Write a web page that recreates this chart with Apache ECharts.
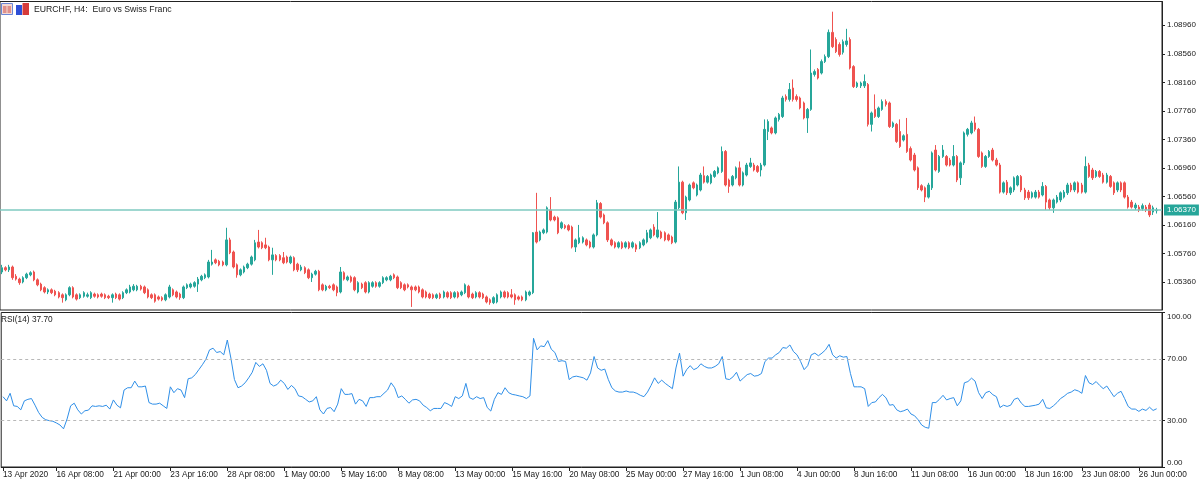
<!DOCTYPE html>
<html><head><meta charset="utf-8">
<script src="https://cdn.jsdelivr.net/npm/echarts@6/dist/echarts.min.js"></script>
<style>html,body{margin:0;padding:0;background:#fff}#c{width:1200px;height:486px}</style>
</head><body><div id="c"></div>
<script>
const symbolTitle = 'EURCHF, H4:  Euro vs Swiss Franc';
const rsiTitle = 'RSI(14) 37.70';
const lastPrice = 1.0637;

const timeLabels = ['13 Apr 2020','16 Apr 08:00','21 Apr 00:00','23 Apr 16:00','28 Apr 08:00','1 May 00:00','5 May 16:00','8 May 08:00','13 May 00:00','15 May 16:00','20 May 08:00','25 May 00:00','27 May 16:00','1 Jun 08:00','4 Jun 00:00','8 Jun 16:00','11 Jun 08:00','16 Jun 00:00','18 Jun 16:00','23 Jun 08:00','26 Jun 00:00'];
const timeLabelIndex = [0,15,31,47,63,79,95,111,127,143,159,175,191,207,223,239,255,271,287,303,319];
const priceTicks = [1.0536,1.0576,1.0616,1.0656,1.0696,1.0736,1.0776,1.0816,1.0856,1.0896];
const rsiTicks = [0,30,70,100];
const rsiLevels = [30,70];

const opens = [
1.0550,1.0556,1.0553,1.0557,1.0544,1.0540,1.0536,1.0542,1.0546,1.0550,
1.0539,1.0533,1.0528,1.0522,1.0525,1.0523,1.0521,1.0518,1.0511,1.0518,
1.0528,1.0518,1.0514,1.0516,1.0516,1.0514,1.0519,1.0518,1.0519,1.0518,
1.0516,1.0514,1.0519,1.0518,1.0514,1.0521,1.0522,1.0525,1.0525,1.0530,
1.0529,1.0525,1.0518,1.0518,1.0515,1.0514,1.0511,1.0515,1.0525,1.0522,
1.0519,1.0514,1.0528,1.0529,1.0530,1.0533,1.0539,1.0542,1.0543,1.0561,
1.0567,1.0565,1.0564,1.0560,1.0595,1.0578,1.0560,1.0546,1.0550,1.0556,
1.0561,1.0567,1.0592,1.0591,1.0588,1.0585,1.0567,1.0573,1.0573,1.0570,
1.0571,1.0563,1.0570,1.0561,1.0553,1.0556,1.0553,1.0542,1.0547,1.0551,
1.0532,1.0525,1.0530,1.0532,1.0529,1.0522,1.0549,1.0539,1.0543,1.0542,
1.0522,1.0533,1.0535,1.0522,1.0530,1.0535,1.0530,1.0535,1.0539,1.0539,
1.0546,1.0543,1.0535,1.0532,1.0532,1.0529,1.0529,1.0529,1.0525,1.0522,
1.0519,1.0518,1.0514,1.0519,1.0515,1.0521,1.0521,1.0515,1.0521,1.0518,
1.0521,1.0530,1.0519,1.0515,1.0521,1.0519,1.0515,1.0511,1.0507,1.0508,
1.0515,1.0522,1.0521,1.0518,1.0518,1.0515,1.0515,1.0511,1.0518,1.0521,
1.0606,1.0595,1.0605,1.0606,1.0637,1.0627,1.0626,1.0612,1.0615,1.0615,
1.0613,1.0585,1.0591,1.0592,1.0595,1.0592,1.0585,1.0602,1.0646,1.0630,
1.0619,1.0595,1.0591,1.0585,1.0591,1.0585,1.0591,1.0585,1.0588,1.0584,
1.0588,1.0592,1.0598,1.0613,1.0599,1.0606,1.0605,1.0602,1.0599,1.0592,
1.0640,1.0676,1.0633,1.0651,1.0675,1.0658,1.0665,1.0685,1.0676,1.0675,
1.0684,1.0689,1.0691,1.0719,1.0679,1.0672,1.0682,1.0696,1.0672,1.0686,
1.0698,1.0700,1.0698,1.0693,1.0700,1.0747,1.0752,1.0745,1.0764,1.0768,
1.0796,1.0792,1.0808,1.0796,1.0794,1.0787,1.0766,1.0778,1.0827,1.0834,
1.0829,1.0845,1.0852,1.0886,1.0876,1.0869,1.0858,1.0869,1.0876,1.0838,
1.0810,1.0811,1.0811,1.0813,1.0757,1.0778,1.0768,1.0778,1.0789,1.0787,
1.0754,1.0757,1.0747,1.0735,1.0743,1.0723,1.0714,1.0696,1.0671,1.0668,
1.0655,1.0668,1.0721,1.0691,1.0712,1.0712,1.0707,1.0700,1.0712,1.0682,
1.0703,1.0743,1.0745,1.0759,1.0750,1.0717,1.0698,1.0712,1.0721,1.0707,
1.0700,1.0662,1.0676,1.0661,1.0665,1.0672,1.0684,1.0665,1.0662,1.0655,
1.0655,1.0662,1.0658,1.0670,1.0651,1.0640,1.0648,1.0651,1.0655,1.0661,
1.0672,1.0665,1.0675,1.0672,1.0662,1.0700,1.0693,1.0684,1.0691,1.0686,
1.0676,1.0684,1.0675,1.0665,1.0675,1.0675,1.0655,1.0648,1.0640,1.0641,
1.0639,1.0641,1.0644,1.0634,1.0636];

const closes = [
1.0556,1.0553,1.0557,1.0542,1.0540,1.0535,1.0542,1.0547,1.0549,1.0539,
1.0532,1.0525,1.0522,1.0525,1.0521,1.0518,1.0515,1.0514,1.0518,1.0528,
1.0515,1.0512,1.0518,1.0521,1.0518,1.0521,1.0516,1.0515,1.0516,1.0514,
1.0514,1.0518,1.0514,1.0512,1.0521,1.0525,1.0529,1.0530,1.0530,1.0526,
1.0521,1.0515,1.0514,1.0509,1.0512,1.0511,1.0518,1.0529,1.0518,1.0515,
1.0514,1.0529,1.0532,1.0533,1.0535,1.0540,1.0544,1.0546,1.0564,1.0564,
1.0563,1.0560,1.0560,1.0595,1.0577,1.0557,1.0546,1.0553,1.0557,1.0561,
1.0571,1.0591,1.0585,1.0584,1.0584,1.0567,1.0574,1.0567,1.0567,1.0563,
1.0564,1.0571,1.0553,1.0553,1.0557,1.0549,1.0542,1.0547,1.0551,1.0525,
1.0525,1.0530,1.0528,1.0525,1.0521,1.0550,1.0540,1.0543,1.0537,1.0525,
1.0535,1.0528,1.0522,1.0535,1.0535,1.0530,1.0535,1.0542,1.0542,1.0544,
1.0542,1.0528,1.0528,1.0525,1.0529,1.0525,1.0525,1.0522,1.0515,1.0515,
1.0514,1.0514,1.0518,1.0514,1.0522,1.0515,1.0514,1.0521,1.0515,1.0522,
1.0532,1.0515,1.0514,1.0521,1.0515,1.0514,1.0508,1.0507,1.0514,1.0518,
1.0522,1.0515,1.0515,1.0515,1.0511,1.0512,1.0511,1.0522,1.0522,1.0605,
1.0592,1.0606,1.0609,1.0640,1.0623,1.0623,1.0605,1.0619,1.0612,1.0609,
1.0585,1.0595,1.0598,1.0598,1.0588,1.0585,1.0602,1.0647,1.0627,1.0619,
1.0595,1.0588,1.0585,1.0591,1.0584,1.0591,1.0584,1.0591,1.0582,1.0591,
1.0595,1.0605,1.0609,1.0602,1.0609,1.0598,1.0595,1.0595,1.0591,1.0648,
1.0676,1.0633,1.0655,1.0672,1.0668,1.0672,1.0686,1.0676,1.0684,1.0686,
1.0691,1.0696,1.0719,1.0672,1.0670,1.0684,1.0696,1.0672,1.0689,1.0700,
1.0703,1.0693,1.0691,1.0700,1.0750,1.0761,1.0745,1.0766,1.0771,1.0794,
1.0792,1.0806,1.0792,1.0792,1.0780,1.0766,1.0778,1.0829,1.0831,1.0822,
1.0845,1.0852,1.0886,1.0866,1.0859,1.0855,1.0873,1.0874,1.0836,1.0810,
1.0815,1.0815,1.0817,1.0757,1.0773,1.0768,1.0780,1.0789,1.0785,1.0754,
1.0759,1.0733,1.0726,1.0741,1.0719,1.0707,1.0693,1.0668,1.0665,1.0655,
1.0672,1.0717,1.0693,1.0712,1.0721,1.0700,1.0700,1.0712,1.0679,1.0703,
1.0745,1.0750,1.0759,1.0750,1.0712,1.0698,1.0712,1.0719,1.0707,1.0700,
1.0662,1.0675,1.0661,1.0668,1.0682,1.0684,1.0665,1.0654,1.0654,1.0661,
1.0662,1.0655,1.0670,1.0648,1.0640,1.0651,1.0655,1.0661,1.0662,1.0672,
1.0665,1.0675,1.0662,1.0662,1.0698,1.0684,1.0682,1.0691,1.0684,1.0676,
1.0686,1.0670,1.0661,1.0675,1.0665,1.0655,1.0641,1.0641,1.0644,1.0637,
1.0643,1.0637,1.0630,1.0640,1.0637];

const lows = [
1.0547,1.0551,1.0550,1.0539,1.0538,1.0532,1.0534,1.0540,1.0544,1.0537,
1.0530,1.0523,1.0520,1.0519,1.0519,1.0516,1.0513,1.0507,1.0509,1.0516,
1.0513,1.0510,1.0512,1.0514,1.0514,1.0512,1.0514,1.0513,1.0514,1.0512,
1.0512,1.0507,1.0512,1.0510,1.0512,1.0519,1.0520,1.0523,1.0523,1.0524,
1.0519,1.0513,1.0512,1.0507,1.0510,1.0509,1.0509,1.0513,1.0516,1.0513,
1.0511,1.0512,1.0526,1.0527,1.0528,1.0522,1.0537,1.0540,1.0541,1.0559,
1.0561,1.0558,1.0558,1.0558,1.0575,1.0555,1.0542,1.0544,1.0548,1.0554,
1.0559,1.0565,1.0583,1.0582,1.0582,1.0565,1.0546,1.0565,1.0565,1.0561,
1.0562,1.0561,1.0551,1.0550,1.0551,1.0547,1.0540,1.0536,1.0545,1.0523,
1.0523,1.0523,1.0526,1.0523,1.0516,1.0520,1.0538,1.0537,1.0535,1.0523,
1.0520,1.0526,1.0520,1.0520,1.0528,1.0528,1.0528,1.0533,1.0537,1.0537,
1.0540,1.0526,1.0526,1.0523,1.0527,1.0501,1.0523,1.0520,1.0513,1.0513,
1.0512,1.0512,1.0512,1.0512,1.0513,1.0513,1.0512,1.0513,1.0513,1.0516,
1.0519,1.0513,1.0512,1.0513,1.0513,1.0512,1.0506,1.0504,1.0505,1.0506,
1.0513,1.0513,1.0513,1.0513,1.0504,1.0510,1.0509,1.0509,1.0516,1.0519,
1.0590,1.0593,1.0603,1.0604,1.0621,1.0621,1.0603,1.0610,1.0610,1.0607,
1.0583,1.0578,1.0589,1.0590,1.0586,1.0583,1.0583,1.0600,1.0625,1.0617,
1.0592,1.0586,1.0583,1.0583,1.0582,1.0583,1.0582,1.0583,1.0578,1.0582,
1.0586,1.0590,1.0596,1.0600,1.0597,1.0596,1.0593,1.0593,1.0589,1.0590,
1.0638,1.0631,1.0623,1.0649,1.0666,1.0656,1.0663,1.0674,1.0674,1.0673,
1.0682,1.0687,1.0689,1.0670,1.0661,1.0670,1.0680,1.0670,1.0670,1.0684,
1.0696,1.0691,1.0689,1.0684,1.0698,1.0735,1.0743,1.0743,1.0761,1.0766,
1.0789,1.0789,1.0789,1.0789,1.0778,1.0764,1.0745,1.0776,1.0824,1.0820,
1.0827,1.0843,1.0850,1.0864,1.0857,1.0852,1.0855,1.0866,1.0834,1.0808,
1.0808,1.0808,1.0808,1.0754,1.0747,1.0766,1.0766,1.0776,1.0782,1.0752,
1.0752,1.0731,1.0724,1.0733,1.0717,1.0705,1.0691,1.0665,1.0663,1.0648,
1.0653,1.0665,1.0691,1.0689,1.0710,1.0698,1.0698,1.0698,1.0676,1.0672,
1.0700,1.0740,1.0743,1.0747,1.0710,1.0696,1.0696,1.0710,1.0705,1.0698,
1.0660,1.0660,1.0658,1.0658,1.0662,1.0670,1.0662,1.0651,1.0651,1.0653,
1.0653,1.0653,1.0656,1.0637,1.0637,1.0633,1.0646,1.0648,1.0653,1.0658,
1.0662,1.0662,1.0660,1.0660,1.0660,1.0682,1.0679,1.0682,1.0682,1.0674,
1.0674,1.0668,1.0658,1.0662,1.0662,1.0653,1.0639,1.0639,1.0637,1.0634,
1.0636,1.0634,1.0627,1.0630,1.0632];

const highs = [
1.0560,1.0558,1.0560,1.0559,1.0547,1.0542,1.0544,1.0549,1.0551,1.0552,
1.0541,1.0535,1.0530,1.0527,1.0527,1.0525,1.0523,1.0520,1.0520,1.0530,
1.0530,1.0520,1.0520,1.0523,1.0521,1.0523,1.0521,1.0520,1.0521,1.0520,
1.0518,1.0520,1.0521,1.0520,1.0523,1.0527,1.0532,1.0533,1.0532,1.0532,
1.0531,1.0527,1.0520,1.0520,1.0517,1.0516,1.0520,1.0532,1.0527,1.0524,
1.0521,1.0531,1.0534,1.0535,1.0537,1.0543,1.0546,1.0548,1.0567,1.0581,
1.0569,1.0567,1.0566,1.0612,1.0598,1.0580,1.0562,1.0555,1.0559,1.0563,
1.0573,1.0595,1.0609,1.0593,1.0598,1.0587,1.0584,1.0575,1.0575,1.0578,
1.0573,1.0573,1.0572,1.0563,1.0560,1.0558,1.0555,1.0549,1.0553,1.0553,
1.0534,1.0532,1.0532,1.0534,1.0531,1.0557,1.0551,1.0545,1.0545,1.0544,
1.0537,1.0535,1.0537,1.0537,1.0537,1.0537,1.0537,1.0544,1.0544,1.0546,
1.0548,1.0545,1.0537,1.0534,1.0534,1.0531,1.0531,1.0531,1.0527,1.0524,
1.0521,1.0520,1.0520,1.0521,1.0524,1.0523,1.0523,1.0523,1.0523,1.0524,
1.0534,1.0532,1.0521,1.0523,1.0523,1.0521,1.0517,1.0513,1.0516,1.0520,
1.0524,1.0524,1.0523,1.0526,1.0520,1.0517,1.0517,1.0524,1.0524,1.0606,
1.0661,1.0608,1.0611,1.0642,1.0655,1.0629,1.0628,1.0621,1.0617,1.0617,
1.0615,1.0597,1.0616,1.0600,1.0597,1.0594,1.0604,1.0651,1.0648,1.0632,
1.0621,1.0597,1.0593,1.0593,1.0593,1.0593,1.0593,1.0593,1.0590,1.0593,
1.0597,1.0609,1.0611,1.0617,1.0634,1.0608,1.0607,1.0604,1.0601,1.0651,
1.0698,1.0678,1.0657,1.0674,1.0677,1.0674,1.0689,1.0698,1.0686,1.0688,
1.0693,1.0698,1.0726,1.0721,1.0681,1.0686,1.0698,1.0705,1.0691,1.0703,
1.0710,1.0703,1.0700,1.0703,1.0764,1.0764,1.0754,1.0768,1.0773,1.0797,
1.0799,1.0815,1.0820,1.0799,1.0796,1.0789,1.0780,1.0862,1.0834,1.0836,
1.0848,1.0855,1.0890,1.0915,1.0879,1.0872,1.0876,1.0891,1.0879,1.0840,
1.0817,1.0817,1.0827,1.0815,1.0775,1.0799,1.0782,1.0792,1.0792,1.0789,
1.0761,1.0759,1.0764,1.0743,1.0766,1.0726,1.0717,1.0698,1.0673,1.0670,
1.0675,1.0719,1.0728,1.0714,1.0728,1.0714,1.0710,1.0728,1.0714,1.0705,
1.0747,1.0752,1.0762,1.0768,1.0752,1.0719,1.0714,1.0721,1.0724,1.0710,
1.0703,1.0677,1.0679,1.0670,1.0684,1.0686,1.0686,1.0668,1.0665,1.0663,
1.0665,1.0665,1.0676,1.0672,1.0653,1.0653,1.0658,1.0663,1.0665,1.0675,
1.0675,1.0677,1.0677,1.0675,1.0712,1.0703,1.0696,1.0693,1.0693,1.0689,
1.0689,1.0686,1.0677,1.0677,1.0677,1.0677,1.0658,1.0651,1.0647,1.0644,
1.0646,1.0644,1.0647,1.0643,1.0640];

const rsi = [
45.5,42.8,47.7,39.6,39.2,37.0,42.8,43.8,44.3,40.0,
35.3,32.1,30.6,30.0,29.6,28.5,27.2,24.7,31.1,39.6,
41.3,37.0,34.3,36.4,36.8,39.6,39.2,39.6,39.2,40.0,
37.5,43.4,40.0,38.3,49.8,51.3,51.3,55.6,51.9,51.9,
52.4,41.7,40.7,40.7,41.3,39.6,37.9,51.9,48.1,50.7,
49.8,44.9,57.1,57.7,59.8,63.0,66.2,69.8,75.8,76.9,
74.1,74.7,72.6,82.2,70.5,56.6,51.3,52.4,54.5,57.7,
61.3,67.7,65.1,66.8,62.6,54.1,52.4,53.4,56.2,54.1,
50.2,52.8,50.7,46.0,45.5,43.8,42.1,42.8,45.5,37.0,
34.3,37.9,38.5,35.8,40.7,50.7,47.0,47.0,47.5,40.7,
43.8,42.8,39.2,44.9,44.9,45.5,45.5,47.7,49.8,54.5,
51.3,44.9,46.0,43.8,41.3,43.4,43.8,42.8,40.0,38.5,
36.4,37.9,37.9,37.9,41.7,40.7,39.2,45.5,44.3,46.0,
54.1,44.9,43.8,45.5,44.3,44.9,38.5,36.2,43.8,48.1,
47.0,51.3,48.1,47.0,46.6,46.0,45.5,44.3,46.0,83.3,
75.8,78.4,77.9,81.8,76.2,74.1,68.3,68.8,68.3,56.6,
58.3,58.8,58.3,57.7,56.2,60.9,71.5,64.1,62.6,63.4,
56.6,51.3,49.2,48.5,48.5,49.2,48.5,48.5,47.7,46.4,
45.5,48.5,52.8,57.7,54.1,56.2,54.1,52.4,50.7,64.1,
73.7,58.8,63.0,65.6,63.0,64.1,66.8,65.1,64.1,64.1,
65.1,66.8,71.5,57.1,56.6,58.3,61.3,55.6,57.7,59.8,
60.5,58.8,59.2,60.5,68.3,70.5,70.5,72.6,74.1,77.3,
76.9,79.0,74.7,72.6,68.3,63.0,65.6,72.6,73.7,72.0,
73.7,75.8,79.4,72.6,70.5,72.0,71.1,71.5,60.5,51.9,
51.9,51.9,50.7,39.2,41.7,42.1,44.9,47.0,44.7,40.0,
40.4,37.0,35.8,36.4,37.5,34.3,33.2,30.6,27.2,25.7,
25.1,41.7,41.7,43.8,46.4,43.4,44.3,44.9,39.6,42.8,
54.5,55.3,57.5,55.6,48.1,44.3,48.1,49.0,46.8,45.5,
38.5,40.0,39.2,40.0,43.8,44.7,41.3,39.2,39.2,39.6,
40.0,40.7,43.8,38.3,37.9,39.6,41.7,44.3,45.8,47.7,
48.5,50.0,49.2,47.7,59.2,54.5,53.4,55.3,52.8,50.7,
52.4,49.0,45.5,47.7,49.0,44.3,39.2,37.5,37.5,36.0,
37.5,36.6,38.7,36.6,37.7];

const UP = '#26a69a', DOWN = '#ef5350', TXT = '#1a1a1a', FONT = 'Liberation Sans';
const n = closes.length;
// one empty slot after the last bar (chart shift)
const categories = [];
for (let i = 0; i <= n; i++) categories.push(String(i));
const labelMap = {};
timeLabelIndex.forEach((idx, k) => { labelMap[idx] = timeLabels[k]; });
const isLabel = (idx) => labelMap[idx] !== undefined;
const ohlc = opens.map((o, i) => [o, closes[i], lows[i], highs[i]]);

const chart = echarts.init(document.getElementById('c'), null, {renderer: 'canvas'});
chart.setOption({
  animation: false,
  backgroundColor: '#ffffff',
  textStyle: {fontFamily: FONT},
  grid: [
    {left: -1, top: 1.5, width: 1163, height: 308.5, show: true, borderColor: '#222', borderWidth: 1, backgroundColor: 'transparent'},
    {left: -1, top: 312.5, width: 1163, height: 154.5, show: true, borderColor: '#222', borderWidth: 1, backgroundColor: 'transparent'}
  ],
  xAxis: [
    {type: 'category', gridIndex: 0, data: categories, boundaryGap: true,
     axisLine: {show: false}, axisTick: {show: false}, axisLabel: {show: false}, splitLine: {show: false}},
    {type: 'category', gridIndex: 1, data: categories, boundaryGap: true,
     axisLine: {show: true, lineStyle: {color: '#222', width: 1}},
     axisTick: {show: true, alignWithLabel: true, interval: (idx) => isLabel(idx), length: 4, lineStyle: {color: '#222'}},
     axisLabel: {show: true, interval: (idx) => isLabel(idx), formatter: (v, idx) => labelMap[idx] || '',
       align: 'left', margin: 4, fontSize: 8.3, color: TXT, fontFamily: FONT},
     splitLine: {show: false}}
  ],
  yAxis: [
    {type: 'value', gridIndex: 0, position: 'right', min: 1.04967, max: 1.09293, scale: true,
     axisLine: {show: true, lineStyle: {color: '#222', width: 1}},
     axisTick: {show: true, customValues: priceTicks, length: 3, lineStyle: {color: '#222'}},
     axisLabel: {show: true, customValues: priceTicks, formatter: (v) => Number(v).toFixed(5), margin: 5, fontSize: 8, color: TXT, fontFamily: FONT},
     splitLine: {show: false}},
    {type: 'value', gridIndex: 1, position: 'right', min: 0, max: 100,
     axisLine: {show: true, lineStyle: {color: '#222', width: 1}},
     axisTick: {show: true, customValues: rsiTicks, length: 3, lineStyle: {color: '#222'}},
     axisLabel: {show: true, customValues: rsiTicks, formatter: (v) => Number(v).toFixed(2), margin: 5, fontSize: 8, color: TXT, fontFamily: FONT,
       verticalAlignMaxLabel: 'top', verticalAlignMinLabel: 'bottom'},
     splitLine: {show: false}}
  ],
  series: [
    {type: 'candlestick', name: 'EURCHF', xAxisIndex: 0, yAxisIndex: 0, data: ohlc, barWidth: 2,
     itemStyle: {color: UP, color0: DOWN, borderColor: UP, borderColor0: DOWN, borderWidth: 1},
     markLine: {silent: true, symbol: ['none', 'none'], precision: 5,
       lineStyle: {color: '#7fcac1', width: 1.5, type: 'solid'},
       label: {show: true, position: 'end', distance: 2, formatter: () => lastPrice.toFixed(5),
         backgroundColor: UP, color: '#ffffff', padding: [2, 3, 1, 3], fontSize: 8, fontFamily: FONT},
       data: [{yAxis: lastPrice}]}},
    {type: 'line', name: 'RSI(14)', xAxisIndex: 1, yAxisIndex: 1, data: rsi, symbol: 'none',
     lineStyle: {color: '#2f8fe8', width: 1}, itemStyle: {color: '#2f8fe8'},
     markLine: {silent: true, symbol: ['none', 'none'], label: {show: false}, precision: 2,
       lineStyle: {color: '#b8b8b8', width: 1, type: [3, 3]},
       data: rsiLevels.map(v => ({yAxis: v}))}}
  ],
  graphic: [
    {type: 'rect', shape: {x: 1.5, y: 3.5, width: 11, height: 11}, style: {fill: '#f3d9d3', stroke: '#6b86d6', lineWidth: 1}},
    {type: 'rect', shape: {x: 3, y: 6, width: 3.5, height: 7}, style: {fill: '#e0908a'}},
    {type: 'rect', shape: {x: 7.5, y: 6, width: 3.5, height: 7}, style: {fill: '#e0908a'}},
    {type: 'rect', shape: {x: 16, y: 5, width: 6, height: 10}, style: {fill: '#2e4fd6'}},
    {type: 'rect', shape: {x: 22.5, y: 3, width: 6.5, height: 12}, style: {fill: '#d63a3a'}},
    {type: 'text', left: 34, top: 5, style: {text: symbolTitle, fontSize: 8.7, fill: TXT, fontFamily: FONT}},
    {type: 'text', left: 1, top: 316, style: {text: rsiTitle, fontSize: 8.3, fill: TXT, fontFamily: FONT}}
  ]
});
</script>
</body></html>
